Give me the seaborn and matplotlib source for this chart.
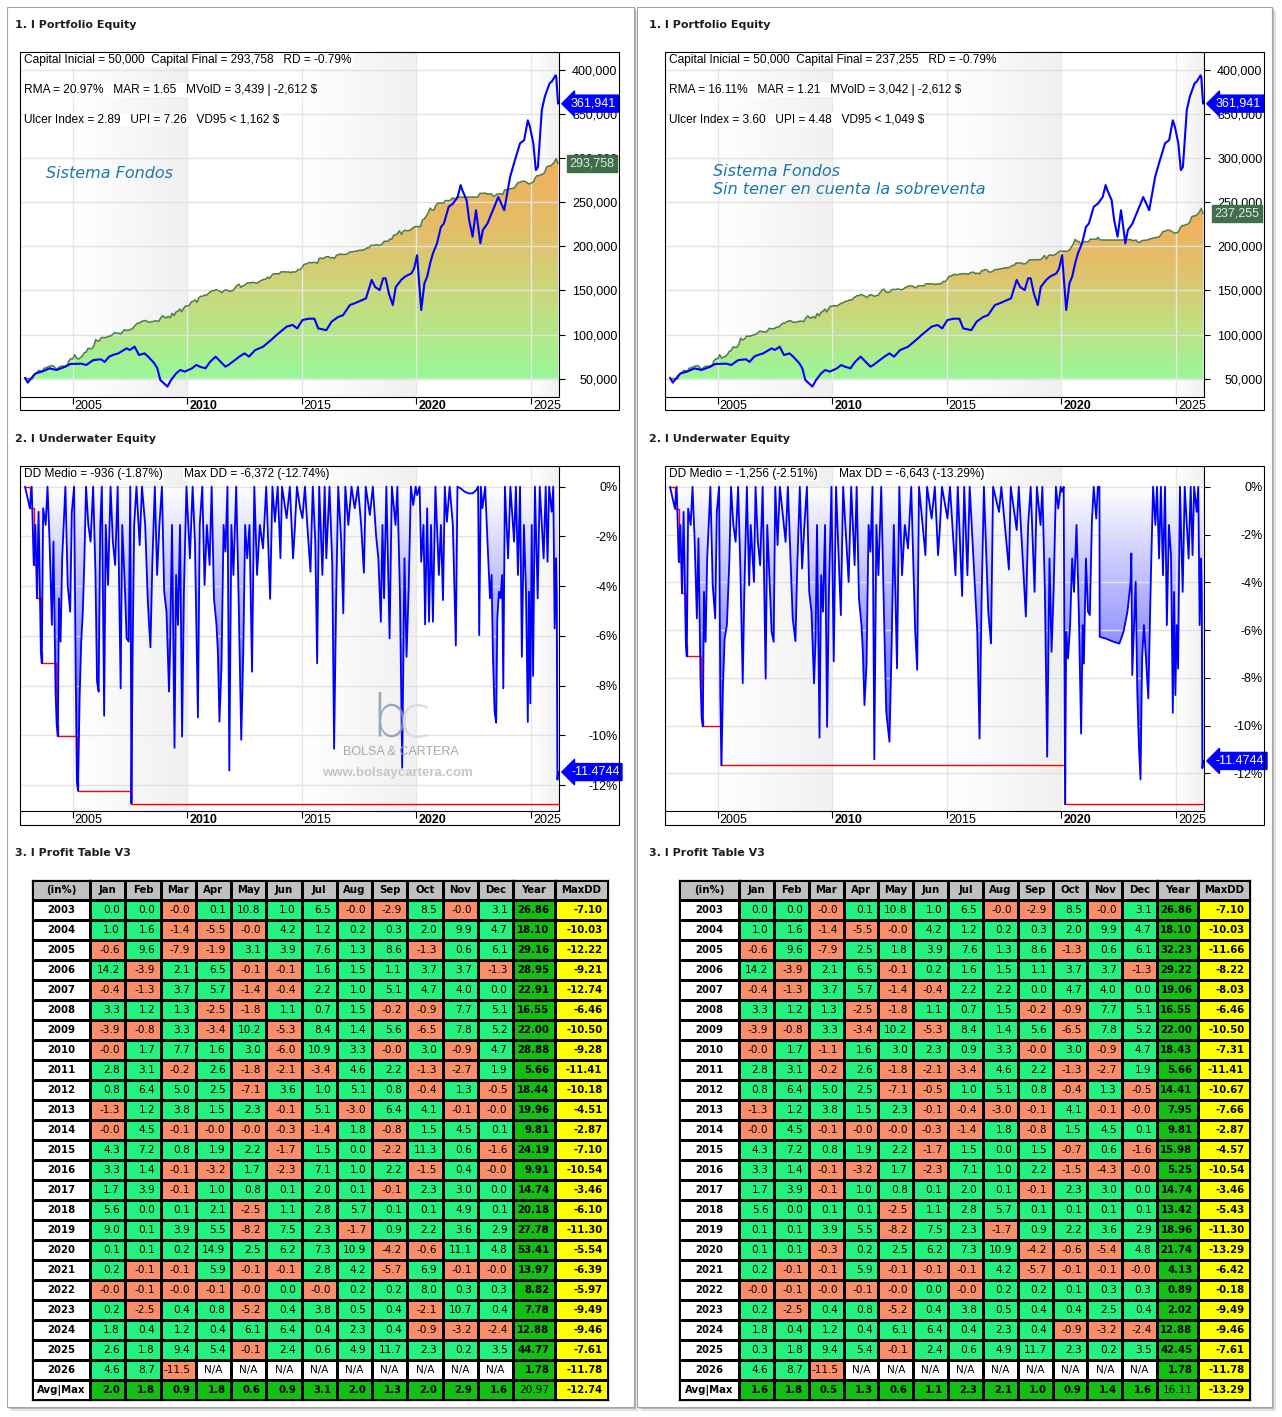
import numpy as np
import seaborn as sns
import matplotlib.pyplot as plt
import matplotlib.transforms as mtransforms
from matplotlib.colors import LinearSegmentedColormap, ListedColormap
from matplotlib.patches import Rectangle

nan = np.nan

MONTHS = ['Jan', 'Feb', 'Mar', 'Apr', 'May', 'Jun', 'Jul', 'Aug', 'Sep', 'Oct', 'Nov', 'Dec']
YEARS = list(range(2003, 2027))

# monthly returns in %, -0.0 kept on purpose (cell colour follows the sign)
left_monthly = [
    [0.0, 0.0, -0.0, 0.1, 10.8, 1.0, 6.5, -0.0, -2.9, 8.5, -0.0, 3.1],
    [1.0, 1.6, -1.4, -5.5, -0.0, 4.2, 1.2, 0.2, 0.3, 2.0, 9.9, 4.7],
    [-0.6, 9.6, -7.9, -1.9, 3.1, 3.9, 7.6, 1.3, 8.6, -1.3, 0.6, 6.1],
    [14.2, -3.9, 2.1, 6.5, -0.1, -0.1, 1.6, 1.5, 1.1, 3.7, 3.7, -1.3],
    [-0.4, -1.3, 3.7, 5.7, -1.4, -0.4, 2.2, 1.0, 5.1, 4.7, 4.0, 0.0],
    [3.3, 1.2, 1.3, -2.5, -1.8, 1.1, 0.7, 1.5, -0.2, -0.9, 7.7, 5.1],
    [-3.9, -0.8, 3.3, -3.4, 10.2, -5.3, 8.4, 1.4, 5.6, -6.5, 7.8, 5.2],
    [-0.0, 1.7, 7.7, 1.6, 3.0, -6.0, 10.9, 3.3, -0.0, 3.0, -0.9, 4.7],
    [2.8, 3.1, -0.2, 2.6, -1.8, -2.1, -3.4, 4.6, 2.2, -1.3, -2.7, 1.9],
    [0.8, 6.4, 5.0, 2.5, -7.1, 3.6, 1.0, 5.1, 0.8, -0.4, 1.3, -0.5],
    [-1.3, 1.2, 3.8, 1.5, 2.3, -0.1, 5.1, -3.0, 6.4, 4.1, -0.1, -0.0],
    [-0.0, 4.5, -0.1, -0.0, -0.0, -0.3, -1.4, 1.8, -0.8, 1.5, 4.5, 0.1],
    [4.3, 7.2, 0.8, 1.9, 2.2, -1.7, 1.5, 0.0, -2.2, 11.3, 0.6, -1.6],
    [3.3, 1.4, -0.1, -3.2, 1.7, -2.3, 7.1, 1.0, 2.2, -1.5, 0.4, -0.0],
    [1.7, 3.9, -0.1, 1.0, 0.8, 0.1, 2.0, 0.1, -0.1, 2.3, 3.0, 0.0],
    [5.6, 0.0, 0.1, 2.1, -2.5, 1.1, 2.8, 5.7, 0.1, 0.1, 4.9, 0.1],
    [9.0, 0.1, 3.9, 5.5, -8.2, 7.5, 2.3, -1.7, 0.9, 2.2, 3.6, 2.9],
    [0.1, 0.1, 0.2, 14.9, 2.5, 6.2, 7.3, 10.9, -4.2, -0.6, 11.1, 4.8],
    [0.2, -0.1, -0.1, 5.9, -0.1, -0.1, 2.8, 4.2, -5.7, 6.9, -0.1, -0.0],
    [-0.0, -0.1, -0.0, -0.1, -0.0, 0.0, -0.0, 0.2, 0.2, 8.0, 0.3, 0.3],
    [0.2, -2.5, 0.4, 0.8, -5.2, 0.4, 3.8, 0.5, 0.4, -2.1, 10.7, 0.4],
    [1.8, 0.4, 1.2, 0.4, 6.1, 6.4, 0.4, 2.3, 0.4, -0.9, -3.2, -2.4],
    [2.6, 1.8, 9.4, 5.4, -0.1, 2.4, 0.6, 4.9, 11.7, 2.3, 0.2, 3.5],
    [4.6, 8.7, -11.5, nan, nan, nan, nan, nan, nan, nan, nan, nan],
]
left_year = [26.86, 18.10, 29.16, 28.95, 22.91, 16.55, 22.00, 28.88, 5.66, 18.44, 19.96, 9.81,
             24.19, 9.91, 14.74, 20.18, 27.78, 53.41, 13.97, 8.82, 7.78, 12.88, 44.77, 1.78]
left_maxdd = [-7.10, -10.03, -12.22, -9.21, -12.74, -6.46, -10.50, -9.28, -11.41, -10.18, -4.51, -2.87,
              -7.10, -10.54, -3.46, -6.10, -11.30, -5.54, -6.39, -5.97, -9.49, -9.46, -7.61, -11.78]
left_avg = [2.0, 1.8, 0.9, 1.8, 0.6, 0.9, 3.1, 2.0, 1.3, 2.0, 2.9, 1.6]
left_avg_year = 20.97
left_avg_maxdd = -12.74

right_monthly = [
    [0.0, 0.0, -0.0, 0.1, 10.8, 1.0, 6.5, -0.0, -2.9, 8.5, -0.0, 3.1],
    [1.0, 1.6, -1.4, -5.5, -0.0, 4.2, 1.2, 0.2, 0.3, 2.0, 9.9, 4.7],
    [-0.6, 9.6, -7.9, 2.5, 1.8, 3.9, 7.6, 1.3, 8.6, -1.3, 0.6, 6.1],
    [14.2, -3.9, 2.1, 6.5, -0.1, 0.2, 1.6, 1.5, 1.1, 3.7, 3.7, -1.3],
    [-0.4, -1.3, 3.7, 5.7, -1.4, -0.4, 2.2, 2.2, 0.0, 4.7, 4.0, 0.0],
    [3.3, 1.2, 1.3, -2.5, -1.8, 1.1, 0.7, 1.5, -0.2, -0.9, 7.7, 5.1],
    [-3.9, -0.8, 3.3, -3.4, 10.2, -5.3, 8.4, 1.4, 5.6, -6.5, 7.8, 5.2],
    [-0.0, 1.7, -1.1, 1.6, 3.0, 2.3, 0.9, 3.3, -0.0, 3.0, -0.9, 4.7],
    [2.8, 3.1, -0.2, 2.6, -1.8, -2.1, -3.4, 4.6, 2.2, -1.3, -2.7, 1.9],
    [0.8, 6.4, 5.0, 2.5, -7.1, -0.5, 1.0, 5.1, 0.8, -0.4, 1.3, -0.5],
    [-1.3, 1.2, 3.8, 1.5, 2.3, -0.1, -0.4, -3.0, -0.1, 4.1, -0.1, -0.0],
    [-0.0, 4.5, -0.1, -0.0, -0.0, -0.3, -1.4, 1.8, -0.8, 1.5, 4.5, 0.1],
    [4.3, 7.2, 0.8, 1.9, 2.2, -1.7, 1.5, 0.0, 1.5, -0.7, 0.6, -1.6],
    [3.3, 1.4, -0.1, -3.2, 1.7, -2.3, 7.1, 1.0, 2.2, -1.5, -4.3, -0.0],
    [1.7, 3.9, -0.1, 1.0, 0.8, 0.1, 2.0, 0.1, -0.1, 2.3, 3.0, 0.0],
    [5.6, 0.0, 0.1, 0.1, -2.5, 1.1, 2.8, 5.7, 0.1, 0.1, 0.1, 0.1],
    [0.1, 0.1, 3.9, 5.5, -8.2, 7.5, 2.3, -1.7, 0.9, 2.2, 3.6, 2.9],
    [0.1, 0.1, -0.3, 0.2, 2.5, 6.2, 7.3, 10.9, -4.2, -0.6, -5.4, 4.8],
    [0.2, -0.1, -0.1, 5.9, -0.1, -0.1, -0.1, 4.2, -5.7, -0.1, -0.1, -0.0],
    [-0.0, -0.1, -0.0, -0.1, -0.0, 0.0, -0.0, 0.2, 0.2, 0.1, 0.3, 0.3],
    [0.2, -2.5, 0.4, 0.8, -5.2, 0.4, 3.8, 0.5, 0.4, 0.4, 2.5, 0.4],
    [1.8, 0.4, 1.2, 0.4, 6.1, 6.4, 0.4, 2.3, 0.4, -0.9, -3.2, -2.4],
    [0.3, 1.8, 9.4, 5.4, -0.1, 2.4, 0.6, 4.9, 11.7, 2.3, 0.2, 3.5],
    [4.6, 8.7, -11.5, nan, nan, nan, nan, nan, nan, nan, nan, nan],
]
right_year = [26.86, 18.10, 32.23, 29.22, 19.06, 16.55, 22.00, 18.43, 5.66, 14.41, 7.95, 9.81,
              15.98, 5.25, 14.74, 13.42, 18.96, 21.74, 4.13, 0.89, 2.02, 12.88, 42.45, 1.78]
right_maxdd = [-7.10, -10.03, -11.66, -8.22, -8.03, -6.46, -10.50, -7.31, -11.41, -10.67, -7.66, -2.87,
               -4.57, -10.54, -3.46, -5.43, -11.30, -13.29, -6.42, -0.18, -9.49, -9.46, -7.61, -11.78]
right_avg = [1.6, 1.8, 0.5, 1.3, 0.6, 1.1, 2.3, 2.1, 1.0, 0.9, 1.4, 1.6]
right_avg_year = 16.11
right_avg_maxdd = -13.29

START_CAPITAL = 50000
EQ_START = 2002.93
left_final = 293758
right_final = 237255

# benchmark (blue): (year, value)
bench = [
    (2002.93, 51000), (2003.05, 45500), (2003.31, 54000), (2003.40, 56000), (2003.66, 58000),
    (2003.90, 60500), (2004.00, 61700), (2004.30, 59800), (2004.69, 63600), (2004.90, 66600),
    (2005.38, 67000), (2005.60, 65500), (2005.90, 71000), (2006.24, 72000), (2006.40, 69000),
    (2006.60, 75000), (2006.76, 76800), (2007.00, 78700), (2007.36, 84400), (2007.50, 82500),
    (2007.71, 86300), (2007.90, 76800), (2008.14, 78700), (2008.30, 75000), (2008.57, 67400),
    (2008.70, 61700), (2008.83, 48500), (2009.14, 41000), (2009.30, 48500), (2009.52, 56000),
    (2009.70, 59800), (2009.90, 58000), (2010.21, 61700), (2010.40, 65500), (2010.55, 63600),
    (2010.80, 61700), (2011.00, 69000), (2011.24, 75000), (2011.67, 63600), (2011.80, 65500),
    (2012.28, 75000), (2012.50, 78700), (2012.70, 75000), (2012.97, 82500), (2013.30, 86000),
    (2013.66, 93800), (2013.90, 99500), (2014.34, 109000), (2014.60, 110900), (2014.80, 107000),
    (2015.03, 116500), (2015.30, 118000), (2015.55, 118000), (2015.72, 107000), (2016.07, 105000),
    (2016.30, 114600), (2016.59, 120000), (2016.80, 122000), (2017.10, 133500), (2017.30, 135400),
    (2017.62, 139000), (2017.80, 141000), (2018.05, 162000), (2018.20, 154000), (2018.40, 150500),
    (2018.55, 163800), (2018.66, 163800), (2018.80, 146600), (2018.97, 133500), (2019.10, 154000),
    (2019.34, 162000), (2019.50, 165700), (2019.78, 169400), (2019.90, 175000), (2020.03, 190000),
    (2020.21, 127900), (2020.35, 158000), (2020.47, 165700), (2020.60, 180800), (2020.72, 192000),
    (2020.90, 203500), (2021.07, 222000), (2021.20, 226000), (2021.41, 245000), (2021.60, 248700),
    (2021.80, 256000), (2021.93, 269600), (2022.00, 264000), (2022.19, 252600), (2022.30, 230000),
    (2022.45, 211000), (2022.60, 241000), (2022.79, 203500), (2022.90, 218600), (2023.10, 226000),
    (2023.22, 233700), (2023.40, 245000), (2023.57, 256000), (2023.70, 248700), (2023.83, 241000),
    (2024.09, 279000), (2024.30, 298000), (2024.52, 316900), (2024.70, 320600), (2024.86, 343000),
    (2024.95, 335800), (2025.10, 316900), (2025.21, 286600), (2025.30, 290000), (2025.47, 354700),
    (2025.60, 369800), (2025.81, 385000), (2025.90, 386800), (2026.07, 394000), (2026.10, 392500),
    (2026.18, 361941),
]

# underwater (year, drawdown %)
uw_left = [
    (2002.93, 0), (2003.14, -0.87), (2003.22, 0), (2003.31, -3.15), (2003.38, -1.54), (2003.45, -4.49),
    (2003.52, -1.01), (2003.62, -6.64), (2003.66, -7.10), (2003.72, -0.87), (2003.83, -1.54), (2003.91, 0),
    (2004.00, -2.21), (2004.10, -5.56), (2004.17, -2.21), (2004.26, -8.24), (2004.31, -9.58), (2004.36, -10.03),
    (2004.41, -4.49), (2004.48, -6.23), (2004.55, -2.88), (2004.69, 0), (2004.79, -3.95), (2004.90, -5.03),
    (2004.97, -1.01), (2005.07, 0), (2005.14, -7.57), (2005.19, -11.86), (2005.24, -12.22), (2005.31, -8.51),
    (2005.38, -6.23), (2005.45, -5.03), (2005.52, -2.88), (2005.59, 0), (2005.69, -1.54), (2005.79, -2.21),
    (2005.90, 0), (2006.00, -3.42), (2006.07, -7.84), (2006.14, -8.24), (2006.21, -1.54), (2006.28, 0),
    (2006.38, -9.21), (2006.45, -1.54), (2006.55, -3.95), (2006.66, 0), (2006.76, -2.21), (2006.86, -3.15),
    (2006.97, 0), (2007.10, -8.11), (2007.17, -1.54), (2007.28, -3.95), (2007.36, -6.10), (2007.45, -6.23),
    (2007.52, 0), (2007.57, -12.74), (2007.62, -6.90), (2007.69, -1.54), (2007.79, 0), (2007.93, -2.35),
    (2008.03, 0), (2008.17, -1.54), (2008.28, -4.49), (2008.34, -5.56), (2008.40, -6.46), (2008.48, -3.15),
    (2008.59, 0), (2008.69, -3.55), (2008.79, -1.54), (2008.90, 0), (2009.00, -4.22), (2009.10, -5.03),
    (2009.21, -8.24), (2009.26, -6.37), (2009.34, -1.54), (2009.45, -10.50), (2009.52, -3.55), (2009.60, -5.56),
    (2009.69, -1.54), (2009.78, -10.05), (2009.86, -4.22), (2009.97, 0), (2010.12, -2.88), (2010.24, 0),
    (2010.34, -2.21), (2010.47, -9.28), (2010.55, -1.54), (2010.66, 0), (2010.76, -3.95), (2010.86, -1.54),
    (2010.98, -3.15), (2011.07, 0), (2011.17, -4.49), (2011.28, -5.56), (2011.34, -6.64), (2011.41, -9.45),
    (2011.50, -7.17), (2011.59, -1.54), (2011.67, -2.61), (2011.76, 0), (2011.84, -11.41), (2011.93, -1.54),
    (2012.02, -3.55), (2012.14, 0), (2012.24, -4.22), (2012.36, -10.18), (2012.45, -6.64), (2012.53, -1.54),
    (2012.62, -2.88), (2012.72, -1.54), (2012.83, -7.44), (2012.93, 0), (2013.05, -3.55), (2013.17, -1.54),
    (2013.31, -2.48), (2013.45, 0), (2013.62, -4.51), (2013.72, 0), (2013.83, -1.41), (2013.95, 0),
    (2014.07, -2.87), (2014.14, 0), (2014.34, -1.27), (2014.48, 0), (2014.62, -2.88), (2014.69, -1.81),
    (2014.79, 0), (2014.93, -0.87), (2015.03, -1.27), (2015.14, 0), (2015.24, -1.54), (2015.38, -3.42),
    (2015.48, 0), (2015.59, -2.21), (2015.67, -7.10), (2015.76, 0), (2015.90, -3.55), (2016.00, 0),
    (2016.07, -2.88), (2016.21, 0), (2016.33, -3.15), (2016.41, -10.54), (2016.50, -4.49), (2016.59, 0),
    (2016.72, -2.21), (2016.81, -5.09), (2016.90, 0), (2017.03, -1.54), (2017.17, 0), (2017.31, -0.87),
    (2017.45, 0), (2017.59, -1.54), (2017.71, -3.46), (2017.79, 0), (2017.97, -1.14), (2018.10, 0),
    (2018.24, -1.94), (2018.34, -2.88), (2018.45, -5.43), (2018.52, -1.54), (2018.59, -4.49), (2018.69, 0),
    (2018.83, -6.10), (2018.93, 0), (2019.09, -1.54), (2019.17, 0), (2019.28, -4.22), (2019.38, -11.30),
    (2019.48, -2.88), (2019.57, -6.84), (2019.66, -4.22), (2019.76, 0), (2019.86, -0.74), (2019.97, 0),
    (2020.03, -0.34), (2020.14, 0), (2020.21, -3.02), (2020.31, -1.54), (2020.38, -5.54), (2020.47, -0.87),
    (2020.55, -5.43), (2020.64, -1.54), (2020.72, -5.43), (2020.83, 0), (2020.98, -3.55), (2021.07, -1.54),
    (2021.16, -4.56), (2021.24, 0), (2021.33, -1.41), (2021.45, 0), (2021.59, -1.54), (2021.72, -6.39),
    (2021.79, 0), (2021.93, -0.07), (2022.10, -0.20), (2022.28, -0.27), (2022.45, -0.27), (2022.62, -0.13),
    (2022.69, 0), (2022.74, -5.97), (2022.81, 0), (2022.88, -0.87), (2023.00, 0), (2023.10, -2.21),
    (2023.21, -4.49), (2023.28, -3.55), (2023.34, -6.90), (2023.41, -9.05), (2023.48, -9.49), (2023.53, -5.29),
    (2023.60, -4.22), (2023.67, -4.49), (2023.74, -3.55), (2023.79, -8.11), (2023.86, 0), (2024.00, -2.88),
    (2024.10, 0), (2024.26, -2.21), (2024.34, 0), (2024.43, -3.55), (2024.52, 0), (2024.60, -6.84),
    (2024.69, -1.54), (2024.78, -4.22), (2024.86, -9.46), (2024.91, -4.22), (2024.97, -8.71), (2025.03, -1.54),
    (2025.09, -7.61), (2025.17, 0), (2025.29, -4.49), (2025.38, 0), (2025.47, -1.54), (2025.55, -2.88),
    (2025.64, 0), (2025.72, -3.02), (2025.79, 0), (2025.90, -1.01), (2025.97, 0), (2026.03, -5.70),
    (2026.09, -2.88), (2026.12, -4.36), (2026.15, -11.78), (2026.18, -11.4744),
]
uw_right = [
    (2002.93, 0), (2003.14, -0.91), (2003.22, 0), (2003.31, -3.14), (2003.38, -1.60), (2003.45, -4.46),
    (2003.52, -1.05), (2003.62, -6.63), (2003.66, -7.10), (2003.72, -0.91), (2003.83, -1.60), (2003.91, 0),
    (2004.00, -2.16), (2004.10, -5.51), (2004.17, -2.16), (2004.26, -8.16), (2004.31, -9.70), (2004.36, -10.03),
    (2004.41, -4.40), (2004.48, -6.49), (2004.55, -3.00), (2004.69, 0), (2004.79, -4.12), (2004.90, -5.51),
    (2004.97, -1.05), (2005.07, 0), (2005.12, -8.65), (2005.17, -11.66), (2005.24, -8.30), (2005.31, -6.35),
    (2005.41, -5.79), (2005.52, -3.00), (2005.59, 0), (2005.69, -1.60), (2005.79, -2.30), (2005.90, 0),
    (2006.00, -3.56), (2006.10, -8.22), (2006.17, -4.40), (2006.28, 0), (2006.38, -4.12), (2006.45, -1.60),
    (2006.59, -3.98), (2006.66, 0), (2006.76, -2.30), (2006.86, -3.28), (2006.97, 0), (2007.10, -8.03),
    (2007.17, -1.60), (2007.28, -4.12), (2007.36, -6.07), (2007.45, -6.49), (2007.52, 0), (2007.62, -2.44),
    (2007.72, 0), (2007.97, -2.30), (2008.07, 0), (2008.28, -5.51), (2008.40, -6.46), (2008.48, -3.28),
    (2008.59, 0), (2008.69, -3.42), (2008.79, -1.60), (2008.90, 0), (2009.00, -4.40), (2009.10, -5.23),
    (2009.21, -8.23), (2009.28, -6.35), (2009.34, -1.60), (2009.45, -10.50), (2009.52, -3.70), (2009.60, -5.23),
    (2009.69, -1.60), (2009.78, -10.05), (2009.86, -4.40), (2009.97, 0), (2010.07, -7.31), (2010.17, 0),
    (2010.38, -5.37), (2010.48, 0), (2010.72, -3.98), (2010.83, 0), (2010.98, -3.28), (2011.07, 0),
    (2011.17, -4.67), (2011.28, -5.79), (2011.34, -6.91), (2011.41, -9.14), (2011.50, -7.46), (2011.59, -1.60),
    (2011.67, -2.72), (2011.76, 0), (2011.84, -11.41), (2011.93, -1.60), (2012.02, -3.70), (2012.14, 0),
    (2012.24, -4.40), (2012.36, -9.42), (2012.50, -10.67), (2012.59, -6.91), (2012.69, -1.60), (2012.83, -7.60),
    (2012.93, 0), (2013.05, -3.70), (2013.17, -1.60), (2013.31, -2.58), (2013.45, 0), (2013.62, -6.00),
    (2013.71, -7.66), (2013.79, 0), (2014.07, -2.86), (2014.14, 0), (2014.34, -1.33), (2014.48, 0),
    (2014.62, -2.86), (2014.69, -1.88), (2014.79, 0), (2015.03, -1.33), (2015.14, 0), (2015.38, -3.70),
    (2015.48, 0), (2015.67, -4.57), (2015.76, 0), (2015.90, -3.70), (2016.00, 0), (2016.33, -6.07),
    (2016.43, -10.54), (2016.52, -4.67), (2016.62, 0), (2016.81, -5.23), (2016.93, -6.56), (2017.02, 0),
    (2017.28, -1.05), (2017.38, 0), (2017.71, -3.46), (2017.79, 0), (2018.05, -1.81), (2018.14, 0),
    (2018.45, -5.43), (2018.55, -1.60), (2018.66, 0), (2018.83, -4.40), (2018.93, 0), (2019.09, -1.60),
    (2019.17, 0), (2019.28, -4.40), (2019.38, -11.30), (2019.48, -3.00), (2019.57, -6.91), (2019.66, -4.40),
    (2019.76, 0), (2019.86, -0.91), (2019.97, 0), (2020.03, -0.21), (2020.10, 0), (2020.16, -13.29),
    (2020.21, -6.07), (2020.29, -7.19), (2020.38, -5.79), (2020.47, -3.00), (2020.55, -4.40), (2020.66, -1.60),
    (2020.76, -5.23), (2020.86, -10.33), (2020.93, -5.79), (2020.98, -7.40), (2021.07, -3.00), (2021.16, -5.23),
    (2021.24, -5.37), (2021.33, -1.47), (2021.41, 0), (2021.52, -1.33), (2021.59, 0), (2021.66, 0),
    (2021.67, -6.28), (2021.93, -6.35), (2022.28, -6.49), (2022.53, -6.56), (2022.71, -6.07), (2022.88, -5.23),
    (2023.02, -3.98), (2023.05, -2.79), (2023.09, -7.88), (2023.17, -5.79), (2023.24, -3.98), (2023.31, -8.58),
    (2023.38, -10.81), (2023.45, -12.25), (2023.52, -7.19), (2023.60, -5.79), (2023.69, -7.19), (2023.79, -8.86),
    (2023.86, -5.79), (2023.91, -3.49), (2024.00, 0), (2024.10, -1.60), (2024.17, 0), (2024.26, -3.00),
    (2024.34, 0), (2024.43, -3.70), (2024.52, 0), (2024.60, -5.79), (2024.69, -1.60), (2024.78, -2.86),
    (2024.86, -9.46), (2024.91, -4.40), (2024.97, -8.72), (2025.03, -5.79), (2025.09, -7.61), (2025.17, 0),
    (2025.29, -4.40), (2025.38, 0), (2025.47, -1.60), (2025.55, -3.00), (2025.64, 0), (2025.72, -2.86),
    (2025.79, 0), (2025.90, -1.05), (2025.97, 0), (2026.03, -5.79), (2026.09, -3.00), (2026.12, -4.40),
    (2026.15, -11.78), (2026.18, -11.4744),
]

left_stats = ['Capital Inicial = 50,000  Capital Final = 293,758   RD = -0.79%',
              'RMA = 20.97%   MAR = 1.65   MVolD = 3,439 | -2,612 $',
              'Ulcer Index = 2.89   UPI = 7.26   VD95 < 1,162 $']
right_stats = ['Capital Inicial = 50,000  Capital Final = 237,255   RD = -0.79%',
               'RMA = 16.11%   MAR = 1.21   MVolD = 3,042 | -2,612 $',
               'Ulcer Index = 3.60   UPI = 4.48   VD95 < 1,049 $']
left_dd_stats = ['DD Medio = -936 (-1.87%)', 'Max DD = -6,372 (-12.74%)']
right_dd_stats = ['DD Medio = -1,256 (-2.51%)', 'Max DD = -6,643 (-13.29%)']

EQ_TICKS = [50000, 100000, 150000, 200000, 250000, 300000, 350000, 400000]
UW_TICKS = [0, -2, -4, -6, -8, -10, -12]
YEAR_TICKS = [2005, 2010, 2015, 2020, 2025]
X_LIM = (2002.71, 2026.22)

sns.set_theme(style='white')
plt.rcParams['font.family'] = ['Liberation Sans', 'DejaVu Sans']

W, H = 1282, 1417
fig = plt.figure(figsize=(W / 100, H / 100), dpi=100, facecolor='white')


def px(x0, y0, x1, y1):
    return [x0 / W, 1 - y1 / H, (x1 - x0) / W, (y1 - y0) / H]


def overlay(z, name):
    a = fig.add_axes([0, 0, 1, 1], zorder=z, label=name)
    a.set_xlim(0, W)
    a.set_ylim(H, 0)
    a.axis('off')
    return a


back = overlay(-5, 'back')
front = overlay(20, 'front')

# panel cards with a soft shadow
for x0, x1 in [(7, 634), (637, 1272)]:
    back.add_patch(Rectangle((x0 + 4, 11), x1 - x0, 1400, fc='#e2e2e2', ec='none'))
    back.add_patch(Rectangle((x0 + 2, 9), x1 - x0, 1400, fc='#b9b9b9', ec='none'))
    back.add_patch(Rectangle((x0, 7), x1 - x0, 1400, fc='white', ec='#a6a6a6', lw=0.8))

for x in (15, 649):
    for y, s in [(25, '1. I Portfolio Equity'), (439, '2. I Underwater Equity'),
                 (853, '3. I Profit Table V3')]:
        front.text(x, y, s, family='DejaVu Sans', weight='bold', fontsize=8,
                   va='center', color='#1e1e1e')

band_cmap = LinearSegmentedColormap.from_list('band', ['#ffffff', '#f0f0f0'])
eq_cmap = LinearSegmentedColormap.from_list('eq', ['#98f898', '#c4dd80', '#e3bf6a', '#f4ae5c'])
uw_cmap = LinearSegmentedColormap.from_list('uw', ['#3a3aff', '#8a8aff', '#ffffff'])


def style_time_axis(ax, y_lo, y_hi):
    grad = np.linspace(0, 1, 128).reshape(1, -1)
    for a, b in [(2005, 2010), (2015, 2020), (2025, X_LIM[1])]:
        ax.imshow(grad, cmap=band_cmap, extent=(a, b, y_lo, y_hi), aspect='auto', zorder=0.1)
    ax.set_facecolor('white')
    ax.set_axisbelow(True)
    ax.grid(axis='y', color='#e2e2e2', lw=1)
    ax.grid(axis='x', color='#e8e8e8', lw=1)
    for side in ['top', 'left']:
        ax.spines[side].set_visible(False)
    for side in ['right', 'bottom']:
        ax.spines[side].set_color('black')
        ax.spines[side].set_linewidth(0.8)
    ax.set_xticks(YEAR_TICKS)
    ax.set_xticklabels([str(y) for y in YEAR_TICKS])
    ax.tick_params(axis='x', bottom=True, length=5, width=0.8, direction='out', pad=-3,
                   labelsize=9, color='black', labelcolor='black')
    shift = mtransforms.ScaledTranslation(2 / 100, 0, fig.dpi_scale_trans)
    for y, lbl in zip(YEAR_TICKS, ax.get_xticklabels()):
        lbl.set_ha('left')
        lbl.set_transform(lbl.get_transform() + shift)
        if y in (2010, 2020):
            lbl.set_fontweight('bold')
    ax.set_xlabel('')
    ax.set_ylabel('')


def y_right(ax, ticks, labels):
    ax.set_yticks(ticks)
    ax.set_yticklabels(labels)
    ax.tick_params(axis='y', left=False, right=True, labelleft=False, labelright=True,
                   length=4, width=0.8, direction='out', pad=38, labelsize=9,
                   color='black', labelcolor='black')
    for lbl in ax.get_yticklabels():
        lbl.set_ha('right')


def gradient_under(ax, t, y, base, lo, hi, cmap):
    poly = ax.fill_between(t, base, y, facecolor='none', edgecolor='none')
    grad = np.linspace(0, 1, 256).reshape(-1, 1)
    im = ax.imshow(grad, cmap=cmap, origin='lower', aspect='auto',
                   extent=(t[0], t[-1], lo, hi), zorder=0.3)
    im.set_clip_path(poly.get_paths()[0], transform=ax.transData)


def tag(ax, value, text, fc, tc, style, dx):
    ax.annotate(text, xy=(1, value), xycoords=('axes fraction', 'data'), xytext=(dx, 0),
                textcoords='offset pixels', ha='left', va='center', color=tc, fontsize=9,
                bbox=dict(boxstyle=style, fc=fc, ec=fc), annotation_clip=False, zorder=6)


def equity_panel(x0, monthly, final_value, stats, captions, cap_xy):
    flat = [v for row in monthly for v in row if not np.isnan(v)]
    eq = START_CAPITAL * (1 + np.concatenate([[0.0], np.cumsum(flat)]) / 100)
    t = EQ_START + np.arange(len(eq)) / 12
    bt = [p[0] for p in bench]
    bv = [p[1] for p in bench]
    ax = fig.add_axes(px(x0, 52, x0 + 539, 397))
    style_time_axis(ax, 29200, 420500)
    gradient_under(ax, t, eq, START_CAPITAL, START_CAPITAL, eq.max(), eq_cmap)
    sns.lineplot(x=t, y=eq, ax=ax, color='#4d7d4d', lw=1.1, zorder=2)
    sns.lineplot(x=bt, y=bv, ax=ax, color='#0000ff', lw=1.5, zorder=3)
    y_right(ax, EQ_TICKS, [f'{v:,}' for v in EQ_TICKS])
    ax.set_xlim(*X_LIM)
    ax.set_ylim(29200, 420500)
    ax.set_xlabel('')
    ax.set_ylabel('')
    tag(ax, bv[-1], f'{bv[-1]:,}', '#0000ff', 'white', 'larrow,pad=0.2', 12)
    tag(ax, final_value, f'{final_value:,}', '#3f6f48', '#e6e6e6', 'square,pad=0.2', 10)
    front.add_patch(Rectangle((x0, 52), 599, 358, fill=False, ec='black', lw=0.8))
    for k, s in enumerate(stats):
        front.text(x0 + 4, 60 + 30 * k, s, fontsize=8.6, va='center', color='black',
                   bbox=dict(fc='white', ec='none', pad=1))
    for k, s in enumerate(captions):
        front.text(cap_xy[0], cap_xy[1] + 19 * k, s, family='DejaVu Sans', style='italic',
                   fontsize=11.5, va='center', color='#1a78aa')


def underwater_panel(x0, uw, ylim, stats, max_x):
    t = np.array([p[0] for p in uw])
    dd = np.array([p[1] for p in uw])
    ax = fig.add_axes(px(x0, 466, x0 + 539, 811))
    style_time_axis(ax, *ylim)
    gradient_under(ax, t, dd, 0, -14, 0, uw_cmap)
    sns.lineplot(x=t, y=np.minimum.accumulate(dd), ax=ax, color='#ff0000', lw=1.0,
                 drawstyle='steps-post', zorder=2)
    sns.lineplot(x=t, y=dd, ax=ax, sort=False, color='#0000ff', lw=1.3, zorder=3)
    y_right(ax, UW_TICKS, [f'{v}%' for v in UW_TICKS])
    ax.set_xlim(*X_LIM)
    ax.set_ylim(*ylim)
    ax.set_xlabel('')
    ax.set_ylabel('')
    tag(ax, dd[-1], f'{dd[-1]:.4f}', '#0000ff', 'white', 'larrow,pad=0.2', 12)
    front.add_patch(Rectangle((x0, 466), 599, 359, fill=False, ec='black', lw=0.8))
    front.text(x0 + 4, 474, stats[0], fontsize=8.6, va='center', color='black',
               bbox=dict(fc='white', ec='none', pad=1))
    front.text(x0 + max_x, 474, stats[1], fontsize=8.6, va='center', color='black',
               bbox=dict(fc='white', ec='none', pad=1))


equity_panel(20, left_monthly, left_final, left_stats, ['Sistema Fondos'], (46, 174))
equity_panel(665, right_monthly, right_final, right_stats,
             ['Sistema Fondos', 'Sin tener en cuenta la sobreventa'], (713, 171))
underwater_panel(20, uw_left, (-13.04, 0.83), left_dd_stats, 164)
underwater_panel(665, uw_right, (-13.57, 0.87), right_dd_stats, 174)

# watermark on the left underwater chart
front.text(371, 737, 'b', family='DejaVu Sans', weight='light', fontsize=42, color='#8d9bab', alpha=0.85)
front.text(399, 737, 'c', family='DejaVu Sans', weight='light', fontsize=42, color='#d2d9e2', alpha=0.85)
front.text(401, 752, 'BOLSA & CARTERA', fontsize=9, ha='center', va='center', color='#a8a8a8')
front.text(397, 773, 'www.bolsaycartera.com', fontsize=9.5, weight='bold', ha='center',
           va='center', color='#c6c6c6')

# ---- profit tables ----
cell_cmap = ListedColormap(['#ffffff', '#c0c0c0', '#24f27f', '#f98e68', '#12bf12', '#ffff00'])
TABLE_TOP = 880
ROW_H = 20


def table_block(x0, x1, codes, texts, bold, right):
    ax = fig.add_axes(px(x0, TABLE_TOP, x1, TABLE_TOP + ROW_H * len(codes)))
    sns.heatmap(np.array(codes), ax=ax, cmap=cell_cmap, vmin=-0.5, vmax=5.5, cbar=False,
                annot=np.array(texts, dtype=object), fmt='', linewidths=0.75, linecolor='black',
                xticklabels=False, yticklabels=False,
                annot_kws={'fontsize': 7.6, 'color': 'black', 'family': 'DejaVu Sans'})
    cell_w = (x1 - x0) / len(codes[0])
    for txt in ax.texts:
        cx, cy = txt.get_position()
        i, j = int(cy), int(cx)
        if bold[i][j]:
            txt.set_fontweight('bold')
            txt.set_fontsize(7.3)
        if right[i][j]:
            txt.set_ha('right')
            txt.set_x(j + 1 - 5.5 / cell_w)
    for sp in ax.spines.values():
        sp.set_visible(True)
        sp.set_color('black')
        sp.set_linewidth(0.9)


def profit_table(xs, monthly, year_tot, maxdd, avg, avg_year, avg_maxdd):
    n = len(YEARS)
    # first column
    table_block(xs[0], xs[1],
                [[1]] + [[0]] * n + [[0]],
                [['(in%)']] + [[str(y)] for y in YEARS] + [['Avg|Max']],
                [[True]] * (n + 2), [[False]] * (n + 2))
    # months
    codes = [[1] * 12]
    texts = [MONTHS]
    bold = [[True] * 12]
    right = [[False] * 12]
    for row in monthly:
        codes.append([0 if np.isnan(v) else (3 if np.signbit(v) else 2) for v in row])
        texts.append(['N/A' if np.isnan(v) else f'{v:.1f}' for v in row])
        bold.append([False] * 12)
        right.append([not np.isnan(v) for v in row])
    codes.append([4] * 12)
    texts.append([f'{v:.1f}' for v in avg])
    bold.append([True] * 12)
    right.append([True] * 12)
    table_block(xs[1], xs[2], codes, texts, bold, right)
    # year total
    table_block(xs[2], xs[3],
                [[1]] + [[4]] * n + [[4]],
                [['Year']] + [[f'{v:.2f}'] for v in year_tot] + [[f'{avg_year:.2f}']],
                [[True]] * (n + 1) + [[False]],
                [[False]] + [[True]] * (n + 1))
    # max drawdown
    table_block(xs[3], xs[4],
                [[1]] + [[5]] * n + [[5]],
                [['MaxDD']] + [[f'{v:.2f}'] for v in maxdd] + [[f'{avg_maxdd:.2f}']],
                [[True]] * (n + 2),
                [[False]] + [[True]] * (n + 1))


profit_table((32, 90, 513, 555, 608), left_monthly, left_year, left_maxdd,
             left_avg, left_avg_year, left_avg_maxdd)
profit_table((679, 739, 1157, 1198, 1250), right_monthly, right_year, right_maxdd,
             right_avg, right_avg_year, right_avg_maxdd)

fig.savefig('out.png', dpi=100, facecolor='white')
